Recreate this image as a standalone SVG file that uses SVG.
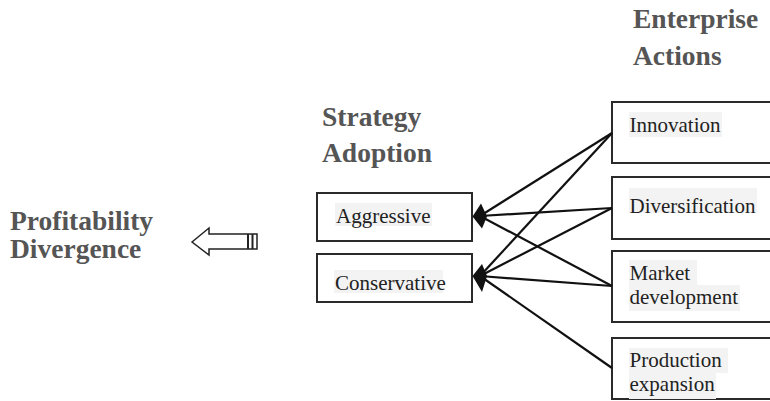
<svg xmlns="http://www.w3.org/2000/svg" width="770" height="401" viewBox="0 0 770 401">
<style>
.title{font-family:"Liberation Serif","Times New Roman",serif;font-weight:bold;font-size:27.5px;fill:#555}
.lbl{font-family:"Liberation Serif","Times New Roman",serif;font-size:21px;fill:#222}
.box{fill:#fff;stroke:#2a2a2a;stroke-width:2}
.hl{fill:#f3f3f3}
.con{stroke:#111;stroke-width:2.2;fill:none}
.head{fill:#111}
</style>
<rect width="770" height="401" fill="#fff"/>

<g id="title-profitability">
<text class="title" x="10" y="230">Profitability</text>
<text class="title" x="10" y="258">Divergence</text>
</g>

<g id="big-arrow">
<polygon points="192,242 209,228 209,234 257,234 257,249 209,249 209,255" fill="#fff" stroke="#222" stroke-width="1.5"/>
<line x1="248" y1="234" x2="248" y2="249" stroke="#222" stroke-width="2"/>
<line x1="252.5" y1="234" x2="252.5" y2="249" stroke="#222" stroke-width="2"/>
</g>

<g id="title-strategy">
<text class="title" x="322" y="126">Strategy</text>
<text class="title" x="322" y="162">Adoption</text>
</g>

<g id="title-enterprise">
<text class="title" x="633" y="28">Enterprise</text>
<text class="title" x="633" y="65">Actions</text>
</g>

<g id="node-aggressive">
<rect class="box" x="317" y="193" width="155" height="48"/>
<rect class="hl" x="335" y="203" width="97" height="23"/>
<text class="lbl" x="336" y="222.5">Aggressive</text>
</g>

<g id="node-conservative">
<rect class="box" x="317" y="254" width="155" height="48"/>
<rect class="hl" x="334" y="270" width="109" height="23"/>
<text class="lbl" x="335" y="290">Conservative</text>
</g>

<g id="node-innovation">
<rect class="box" x="612" y="102" width="180" height="61"/>
<rect class="hl" x="629" y="112" width="93" height="25"/>
<text class="lbl" x="629.5" y="131.5">Innovation</text>
</g>

<g id="node-diversification">
<rect class="box" x="612" y="177" width="180" height="62"/>
<rect class="hl" x="629" y="188" width="128" height="25"/>
<text class="lbl" x="629.5" y="213">Diversification</text>
</g>

<g id="node-market">
<rect class="box" x="612" y="251" width="180" height="71"/>
<rect class="hl" x="629" y="260" width="68" height="25"/>
<rect class="hl" x="629" y="285" width="111" height="26"/>
<text class="lbl" x="629.5" y="280">Market</text>
<text class="lbl" x="629.5" y="304">development</text>
</g>

<g id="node-production">
<rect class="box" x="612" y="338" width="180" height="61"/>
<rect class="hl" x="629" y="348" width="99" height="25"/>
<rect class="hl" x="629" y="373" width="87" height="26"/>
<text class="lbl" x="629.5" y="366.5">Production</text>
<text class="lbl" x="629.5" y="391">expansion</text>
</g>

<g id="connectors">
<line class="con" x1="612" y1="133" x2="480" y2="216"/>
<line class="con" x1="612" y1="208" x2="480" y2="216"/>
<line class="con" x1="612" y1="286" x2="480" y2="216"/>
<line class="con" x1="612" y1="133" x2="480" y2="276"/>
<line class="con" x1="612" y1="208" x2="480" y2="276"/>
<line class="con" x1="612" y1="286" x2="480" y2="276"/>
<line class="con" x1="612" y1="368" x2="480" y2="276"/>
<polygon class="head" points="472.5,216.5 481,203.5 487,216.5 482,228.5"/>
<polygon class="head" points="472.5,276 482,264 487,276 482,292"/>
</g>
</svg>
